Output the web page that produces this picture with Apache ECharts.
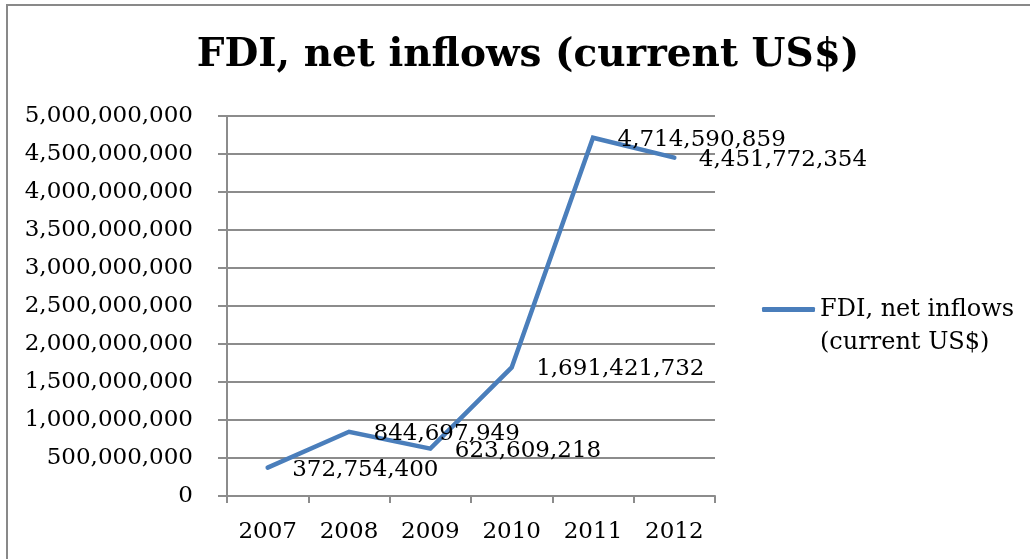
<!DOCTYPE html>
<html>
<head>
<meta charset="utf-8">
<script src="https://cdn.jsdelivr.net/npm/echarts@6/dist/echarts.min.js"></script>
<style>html,body{margin:0;padding:0;background:#fff;overflow:hidden}#c{width:1030px;height:559px}</style>
</head>
<body>
<div id="c"></div>
<script>
const titleText = 'FDI, net inflows (current US$)';
const seriesName = 'FDI, net inflows (current US$)';
const legendLines = ['FDI, net inflows', '(current US$)'];
const categories = ['2007', '2008', '2009', '2010', '2011', '2012'];
const values = [372754400, 844697949, 623609218, 1691421732, 4714590859, 4451772354];
const yMin = 0, yMax = 5000000000, yStep = 500000000;

const fmt = v => Number(v).toLocaleString('en-US');
const serif = '"DejaVu Serif", "Liberation Serif", serif';
const gridColor = '#8c8c8c';
const lineColor = '#4a7ebb';

const chart = echarts.init(document.getElementById('c'), null, {renderer: 'canvas'});
chart.setOption({
  animation: false,
  backgroundColor: '#ffffff',
  title: {
    text: titleText,
    left: 523,
    textAlign: 'center',
    top: 31,
    textStyle: {fontFamily: serif, fontWeight: 'bold', fontSize: 39, color: '#000'}
  },
  graphic: [{
    type: 'polyline',
    shape: {points: [[7, 700], [7, 5], [1200, 5]]},
    style: {fill: 'none', stroke: '#898989', lineWidth: 2},
    silent: true
  }],
  legend: {
    left: 757,
    top: 255,
    itemWidth: 53,
    itemHeight: 5,
    itemGap: 5,
    icon: 'roundRect',
    data: [seriesName],
    formatter: () => '\n' + legendLines.join('\n'),
    textStyle: {fontFamily: serif, fontSize: 24, color: '#000', lineHeight: 33}
  },
  grid: {left: 227, right: 315, top: 116, bottom: 63},
  xAxis: {
    type: 'category',
    data: categories,
    boundaryGap: true,
    axisLine: {show: true, lineStyle: {color: gridColor, width: 2}},
    axisTick: {show: true, length: 7, lineStyle: {color: gridColor, width: 2}},
    axisLabel: {margin: 25, fontFamily: serif, fontSize: 23, color: '#000'}
  },
  yAxis: {
    type: 'value',
    min: yMin, max: yMax, interval: yStep,
    axisLine: {show: true, lineStyle: {color: gridColor, width: 2}},
    axisTick: {show: true, length: 9, lineStyle: {color: gridColor, width: 2}},
    splitLine: {show: true, lineStyle: {color: gridColor, width: 2}},
    axisLabel: {margin: 34, fontFamily: serif, fontSize: 23, color: '#000', formatter: v => fmt(v)}
  },
  series: [{
    name: seriesName,
    type: 'line',
    data: values,
    symbol: 'circle',
    symbolSize: 1,
    itemStyle: {color: lineColor},
    lineStyle: {color: lineColor, width: 4.5, cap: 'round', join: 'miter'},
    label: {
      show: true,
      position: 'right',
      distance: 24,
      offset: [0, 2],
      fontFamily: serif,
      fontSize: 23,
      color: '#000',
      formatter: p => fmt(p.value)
    }
  }]
});
</script>
</body>
</html>
